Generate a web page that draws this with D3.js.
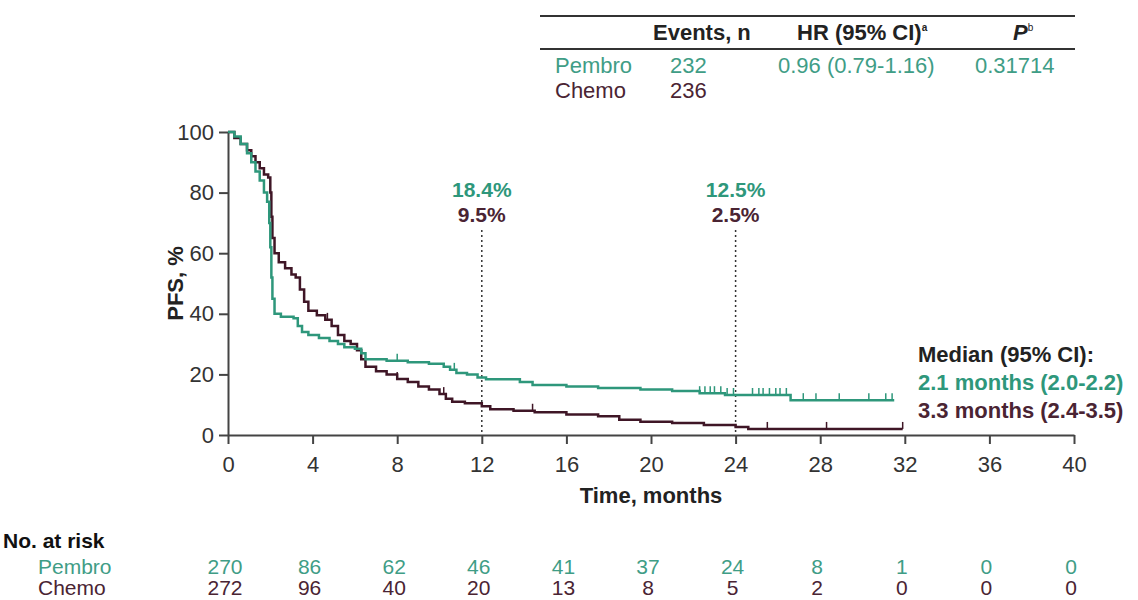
<!DOCTYPE html>
<html>
<head>
<meta charset="utf-8">
<script src="https://cdn.jsdelivr.net/npm/d3@7"></script>
<style>
  body { margin: 0; background: #fff; }
  text { font-family: "Liberation Sans", Arial, sans-serif; }
</style>
</head>
<body>
<div id="km-chart"></div>
<script>
// KM step points (months, PFS %)
const pembroTime = [0, 0.3, 0.6, 0.9, 1.1, 1.3, 1.5, 1.7, 1.85, 1.95, 2.0, 2.05, 2.1, 2.2, 2.5, 3.1, 3.3, 3.5, 3.8, 4.3, 4.8, 5.2, 5.5, 6.0, 6.3, 6.5, 7.5, 8.5, 9.5, 10.2, 10.5, 10.8, 11.3, 11.8, 12.2, 13.8, 14.4, 16, 17.5, 19.5, 21, 22.3, 23.5, 26.6, 31.5];
const pembroPFS  = [100, 98.5, 96, 93, 90, 87, 84, 80, 77, 70, 62, 52, 45, 40, 39, 38.5, 36, 34, 33, 32, 31, 30, 29, 28.5, 27, 25, 24.5, 24, 23.5, 22.5, 21.5, 20.5, 20, 19, 18.4, 17.5, 16.5, 16, 15.5, 15, 14.5, 13.8, 13.2, 11.5, 11.5];
const chemoTime = [0, 0.3, 0.6, 0.9, 1.1, 1.3, 1.5, 1.7, 1.9, 2.0, 2.05, 2.1, 2.2, 2.4, 2.7, 3.0, 3.2, 3.4, 3.6, 3.8, 4.2, 4.6, 4.9, 5.2, 5.5, 5.8, 6.1, 6.3, 6.5, 7.0, 7.5, 8.0, 8.5, 9.0, 9.5, 10.0, 10.3, 10.6, 11.2, 12.0, 12.4, 13.5, 14.5, 16, 17.5, 18.5, 19.5, 21, 22.5, 24, 24.6, 31.9];
const chemoPFS  = [100, 98, 96, 94, 92, 90, 88, 86, 85, 80, 72, 65, 60, 57, 55, 53, 52, 48, 44, 41, 39.5, 38, 36, 33, 31, 30, 28, 25, 22.5, 21, 20, 18.5, 17.5, 16, 15, 13.5, 12, 11, 10.5, 9.5, 8.5, 8, 7.5, 6.8, 6.2, 5, 4.4, 4, 3.3, 2.6, 2, 2];

const pembroCensor = [8.0, 10.7, 22.3, 22.55, 22.8, 23.0, 23.3, 23.6, 23.9, 24.8, 25.1, 25.3, 25.6, 25.9, 26.1, 26.4, 27.2, 27.8, 28.9, 30.3, 31.1, 31.4];
const chemoCensor = [4.7, 8.0, 10.2, 14.4, 25.5, 28.3, 31.9];

const xTicks = [0, 4, 8, 12, 16, 20, 24, 28, 32, 36, 40];
const yTicks = [0, 20, 40, 60, 80, 100];

const pembroRisk = [270, 86, 62, 46, 41, 37, 24, 8, 1, 0, 0];
const chemoRisk  = [272, 96, 40, 20, 13, 8, 5, 2, 0, 0, 0];

const landmarkTimes = [12, 24];
const pembroLandmark = ['18.4%', '12.5%'];
const chemoLandmark = ['9.5%', '2.5%'];

const green = '#2e977b';
const maroon = '#3f1626';
const greenText = '#3f9d86';
const maroonText = '#4a2433';

const width = 1138, height = 600;
const svg = d3.select('#km-chart').append('svg')
  .attr('width', width)
  .attr('height', height);

const x = d3.scaleLinear().domain([0, 40]).range([228, 1074]);
const y = d3.scaleLinear().domain([0, 100]).range([435, 132]);

// axes
const xAxis = svg.append('g')
  .attr('transform', `translate(0,${y(0)})`)
  .call(d3.axisBottom(x).tickValues(xTicks).tickSize(9).tickSizeOuter(0).tickPadding(12));
const yAxis = svg.append('g')
  .attr('transform', `translate(${x(0)},0)`)
  .call(d3.axisLeft(y).tickValues(yTicks).tickSize(9).tickSizeOuter(0).tickPadding(5));

[xAxis, yAxis].forEach(g => {
  g.selectAll('path, line').attr('stroke', '#444').attr('stroke-width', 2);
  g.selectAll('text').attr('fill', '#333').style('font-size', '22px');
});

svg.append('text')
  .attr('transform', `translate(183,${y(50)}) rotate(-90)`)
  .attr('text-anchor', 'middle')
  .style('font-size', '22px').style('font-weight', 'bold').attr('fill', '#222')
  .text('PFS, %');

svg.append('text')
  .attr('x', x(20)).attr('y', 503)
  .attr('text-anchor', 'middle')
  .style('font-size', '22px').style('font-weight', 'bold').attr('fill', '#222')
  .text('Time, months');

// landmark lines + labels
landmarkTimes.forEach((t, i) => {
  svg.append('line')
    .attr('x1', x(t)).attr('x2', x(t))
    .attr('y1', 230).attr('y2', y(0))
    .attr('stroke', '#333').attr('stroke-width', 1.5)
    .attr('stroke-dasharray', '2,3');
  svg.append('text')
    .attr('x', x(t)).attr('y', 197)
    .attr('text-anchor', 'middle')
    .style('font-size', '21px').style('font-weight', 'bold').attr('fill', green)
    .text(pembroLandmark[i]);
  svg.append('text')
    .attr('x', x(t)).attr('y', 222)
    .attr('text-anchor', 'middle')
    .style('font-size', '21px').style('font-weight', 'bold').attr('fill', maroonText)
    .text(chemoLandmark[i]);
});

// curves
const line = d3.line()
  .x(d => x(d[0]))
  .y(d => y(d[1]))
  .curve(d3.curveStepAfter);

const stepValue = (times, vals, t) => vals[d3.bisectRight(times, t) - 1];

function drawCurve(times, vals, censor, color) {
  svg.append('path')
    .datum(times.map((t, i) => [t, vals[i]]))
    .attr('d', line)
    .attr('fill', 'none')
    .attr('stroke', color)
    .attr('stroke-width', 2.5);

  svg.selectAll(null)
    .data(censor)
    .enter()
    .append('line')
    .attr('x1', d => x(d)).attr('x2', d => x(d))
    .attr('y1', d => y(stepValue(times, vals, d)))
    .attr('y2', d => y(stepValue(times, vals, d)) - 7)
    .attr('stroke', color)
    .attr('stroke-width', 1.5);
}

drawCurve(chemoTime, chemoPFS, chemoCensor, maroon);
drawCurve(pembroTime, pembroPFS, pembroCensor, green);

// median box
const medianLines = [
  ['Median (95% CI):', '#222'],
  ['2.1 months (2.0-2.2)', green],
  ['3.3 months (2.4-3.5)', maroonText]
];
svg.selectAll(null)
  .data(medianLines)
  .enter()
  .append('text')
  .attr('x', 918)
  .attr('y', (d, i) => 362 + i * 28)
  .style('font-size', '22px').style('font-weight', 'bold')
  .attr('fill', d => d[1])
  .text(d => d[0]);

// top table
const table = svg.append('g');
[16, 49].forEach(yy => {
  table.append('line')
    .attr('x1', 540).attr('x2', 1075)
    .attr('y1', yy).attr('y2', yy)
    .attr('stroke', '#333').attr('stroke-width', 2);
});

const hdr = table.append('g').style('font-size', '22px').style('font-weight', 'bold').attr('fill', '#222');
hdr.append('text').attr('x', 653).attr('y', 40).text('Events, n');
const hr = hdr.append('text').attr('x', 797).attr('y', 40);
hr.append('tspan').text('HR (95% CI)');
hr.append('tspan').attr('dy', -9).style('font-size', '10px').text('a');
const pv = hdr.append('text').attr('x', 1013).attr('y', 40);
pv.append('tspan').style('font-style', 'italic').text('P');
pv.append('tspan').attr('dy', -9).style('font-size', '10px').style('font-weight', 'normal').text('b');

const rows = table.append('g').style('font-size', '22px');
rows.append('text').attr('x', 555).attr('y', 73).attr('fill', greenText).text('Pembro');
rows.append('text').attr('x', 670).attr('y', 73).attr('fill', greenText).text('232');
rows.append('text').attr('x', 778).attr('y', 73).attr('fill', greenText).text('0.96 (0.79-1.16)');
rows.append('text').attr('x', 975).attr('y', 73).attr('fill', greenText).text('0.31714');
rows.append('text').attr('x', 555).attr('y', 98).attr('fill', maroonText).text('Chemo');
rows.append('text').attr('x', 670).attr('y', 98).attr('fill', maroonText).text('236');

// number at risk
svg.append('text')
  .attr('x', 3).attr('y', 548)
  .style('font-size', '21px').style('font-weight', 'bold').attr('fill', '#111')
  .text('No. at risk');
svg.append('text').attr('x', 38).attr('y', 574)
  .style('font-size', '21px').attr('fill', greenText).text('Pembro');
svg.append('text').attr('x', 38).attr('y', 595)
  .style('font-size', '21px').attr('fill', maroonText).text('Chemo');

svg.selectAll(null)
  .data(pembroRisk)
  .enter()
  .append('text')
  .attr('x', (d, i) => x(xTicks[i]) - 3)
  .attr('y', 574)
  .attr('text-anchor', 'middle')
  .style('font-size', '21px').attr('fill', greenText)
  .text(d => d);

svg.selectAll(null)
  .data(chemoRisk)
  .enter()
  .append('text')
  .attr('x', (d, i) => x(xTicks[i]) - 3)
  .attr('y', 595)
  .attr('text-anchor', 'middle')
  .style('font-size', '21px').attr('fill', maroonText)
  .text(d => d);
</script>
</body>
</html>
